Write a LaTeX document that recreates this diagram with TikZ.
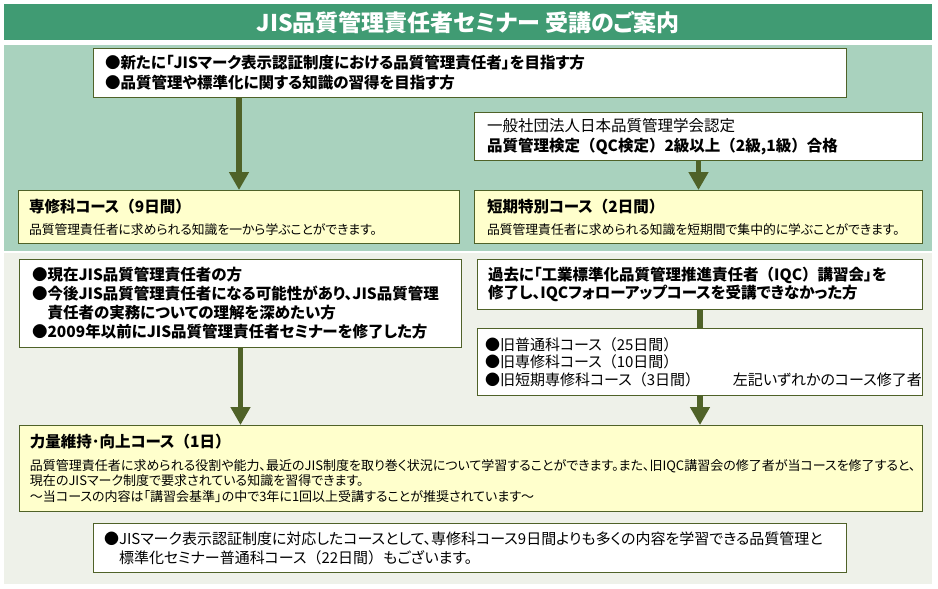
\documentclass[tikz,border=0pt]{standalone}
\usepackage{fontspec}
\setmainfont{Noto Sans CJK JP}[RawFeature=+palt]
\newfontfamily\fwfont{Noto Sans CJK JP}
\usepackage{tikz}
\usetikzlibrary{positioning,arrows.meta}

\definecolor{titlegreen}{HTML}{409B73}
\definecolor{upperbg}{HTML}{A9D2BE}
\definecolor{lowerbg}{HTML}{EEF1E9}
\definecolor{olive}{HTML}{4F6228}
\definecolor{paleyellow}{HTML}{FFFFCC}

\newcommand{\headfont}{\fontsize{15.5}{17}\selectfont\bfseries}
\newcommand{\lp}{{\fwfont （}}
\newcommand{\rp}{{\fwfont ）}}

\begin{document}
\begin{tikzpicture}[x=1pt,y=-1pt,
    panel/.style={draw=olive, line width=1pt, anchor=north west, inner ysep=0pt, align=left},
    whitebox/.style={panel, fill=white},
    yellowbox/.style={panel, fill=paleyellow},
    flow/.style={draw=olive, line width=5.5pt, -{Triangle[width=19pt,length=18pt]}},
    link/.style={draw=olive, line width=5.5pt}]
    \useasboundingbox (0,0) rectangle (938,589);

    % Title bar
    \node[fill=titlegreen, anchor=north west, inner sep=0pt, minimum width=928pt, minimum height=36pt,
        text=white, font=\fontsize{23}{26}\selectfont\bfseries] (title) at (4,4) {JIS品質管理責任者セミナー 受講のご案内};

    % Backgrounds
    \fill[upperbg] (4,45) rectangle (932,251);
    \fill[lowerbg] (4,253) rectangle (932,584);

    % Upper part
    \node[whitebox, minimum width=753pt, minimum height=49pt, inner xsep=11pt, text width=730pt,
        font=\fontsize{15.5}{20}\selectfont\bfseries] (target) at (93,48)
        {●新たに「JISマーク表示認証制度における品質管理責任者」を目指す方\\●品質管理や標準化に関する知識の習得を目指す方};
    \node[whitebox, minimum width=448pt, minimum height=48pt, inner xsep=12pt, text width=423pt,
        font=\fontsize{15.5}{19.5}\selectfont] (qc) at (474,112)
        {一般社団法人日本品質管理学会認定\\\textbf{品質管理検定\lp QC検定\rp 2級以上\lp 2級,1級\rp 合格}};
    \node[yellowbox, minimum width=441pt, minimum height=53pt, inner xsep=10pt, text width=420pt,
        font=\fontsize{12.8}{17}\selectfont] (senshu) at (18,190)
        {{\headfont 専修科コース\lp 9日間\rp}\\[5pt]品質管理責任者に求められる知識を一から学ぶことができます。};
    \node[yellowbox, minimum width=448pt, minimum height=53pt, inner xsep=12pt, text width=423pt,
        font=\fontsize{12.8}{17}\selectfont] (tanki) at (474,190)
        {{\headfont 短期特別コース\lp 2日間\rp}\\[5pt]品質管理責任者に求められる知識を短期間で集中的に学ぶことができます。};

    % Lower part
    \node[whitebox, minimum width=442pt, minimum height=88pt, inner xsep=12pt, text width=417pt,
        font=\fontsize{15.5}{19}\selectfont\bfseries] (current) at (19,259)
        {●現在JIS品質管理責任者の方\\●今後JIS品質管理責任者になる可能性があり、JIS品質管理\\\phantom{●}責任者の実務についての理解を深めたい方\\●2009年以前にJIS品質管理責任者セミナーを修了した方};
    \node[whitebox, minimum width=445pt, minimum height=50pt, inner xsep=10pt, text width=424pt,
        font=\fontsize{15.5}{18.5}\selectfont\bfseries] (iqc) at (477,259)
        {過去に「工業標準化品質管理推進責任者\lp IQC\rp 講習会」を\\修了し、IQCフォローアップコースを受講できなかった方};
    \node[whitebox, minimum width=445pt, minimum height=67pt, inner xsep=7pt, text width=430pt,
        font=\fontsize{15}{17.5}\selectfont] (old) at (477,328)
        {●旧普通科コース\lp 25日間\rp\\●旧専修科コース\lp 10日間\rp\\\makebox[248pt][l]{●旧短期専修科コース\lp 3日間\rp}左記いずれかのコース修了者};
    \node[yellowbox, minimum width=903pt, minimum height=86pt, inner xsep=10pt, text width=882pt,
        font=\fontsize{13}{15.5}\selectfont] (power) at (19,425)
        {{\headfont 力量維持･向上コース\lp 1日\rp}\\[7pt]品質管理責任者に求められる役割や能力、最近のJIS制度を取り巻く状況について学習することができます。また、旧IQC講習会の修了者が当コースを修了すると、\\現在のJISマーク制度で要求されている知識を習得できます。\\～当コースの内容は「講習会基準」の中で3年に1回以上受講することが推奨されています～};
    \node[whitebox, minimum width=753pt, minimum height=49pt, inner xsep=10pt, text width=732pt,
        font=\fontsize{15}{19}\selectfont] (note) at (93,523)
        {●JISマーク表示認証制度に対応したコースとして、専修科コース9日間よりも多くの内容を学習できる品質管理と\\\phantom{●}標準化セミナー普通科コース\lp 22日間\rp もございます。};

    % Arrows
    \draw[flow] (target.south -| senshu.north) -- (senshu.north);
    \draw[flow] (qc.south) -- (tanki.north);
    \draw[flow] (current.south) -- (current.south |- power.north);
    \draw[link] (iqc.south) -- (old.north);
    \draw[flow] (old.south) -- (old.south |- power.north);
\end{tikzpicture}
\end{document}
